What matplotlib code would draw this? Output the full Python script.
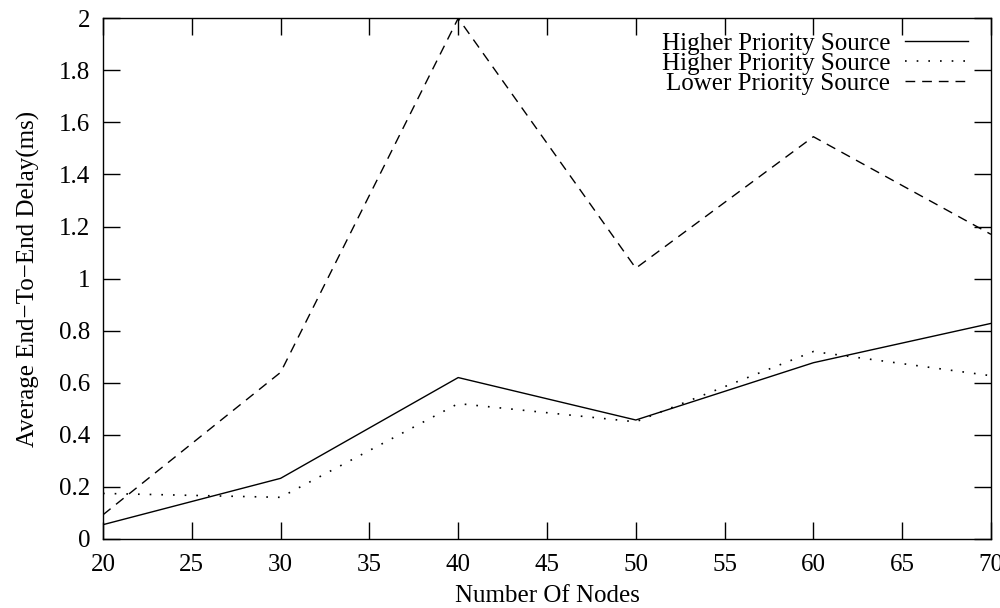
import matplotlib

matplotlib.use("Agg")

import matplotlib.pyplot as plt

nodes = [20, 30, 40, 50, 60, 70]
higher_a = [0.055, 0.233, 0.62, 0.457, 0.677, 0.828]
higher_b = [0.175, 0.16, 0.52, 0.45, 0.72, 0.627]
lower = [0.093, 0.64, 2.0, 1.04, 1.545, 1.17]

x_ticks = [20, 25, 30, 35, 40, 45, 50, 55, 60, 65, 70]
y_ticks = [0, 0.2, 0.4, 0.6, 0.8, 1.0, 1.2, 1.4, 1.6, 1.8, 2.0]
y_labels = ["0", "0.2", "0.4", "0.6", "0.8", "1", "1.2", "1.4", "1.6", "1.8", "2"]


def main() -> None:
    plt.rcParams["font.family"] = ["Liberation Serif", "DejaVu Serif"]
    plt.rcParams["font.size"] = 18

    fig = plt.figure(figsize=(10, 6.08), dpi=100)
    ax = fig.add_axes([0.103, 0.1135, 0.888, 0.8565])

    ax.plot(nodes, higher_a, color="black", linewidth=1.0,
            label="Higher Priority Source")
    ax.plot(nodes, higher_b, color="black", linewidth=1.2,
            linestyle=(0, (1, 6)), label="Higher Priority Source")
    ax.plot(nodes, lower, color="black", linewidth=1.0,
            linestyle=(0, (7, 5)), label="Lower Priority Source")

    ax.set_xlim(20, 70)
    ax.set_ylim(0, 2)
    ax.set_xticks(x_ticks)
    ax.set_yticks(y_ticks)
    ax.set_yticklabels(y_labels)
    ax.tick_params(direction="in", length=12, width=1.0, top=True, right=True,
                   pad=9, labelsize=18)
    ax.tick_params(axis="x", pad=11)
    for s in ax.spines.values():
        s.set_linewidth(1.0)

    ax.set_xlabel("Number Of Nodes", fontsize=18, labelpad=6)
    ax.set_ylabel("Average End\u2212To\u2212End Delay(ms)", fontsize=18,
                  labelpad=14)

    ax.legend(loc="upper right", bbox_to_anchor=(0.985, 0.992),
              frameon=False, markerfirst=False, handlelength=2.5,
              handletextpad=0.6, labelspacing=-0.1, borderaxespad=0.2,
              borderpad=0.2, fontsize=18)

    fig.savefig("out.png", dpi=100)
    plt.close(fig)


if __name__ == "__main__":
    main()
